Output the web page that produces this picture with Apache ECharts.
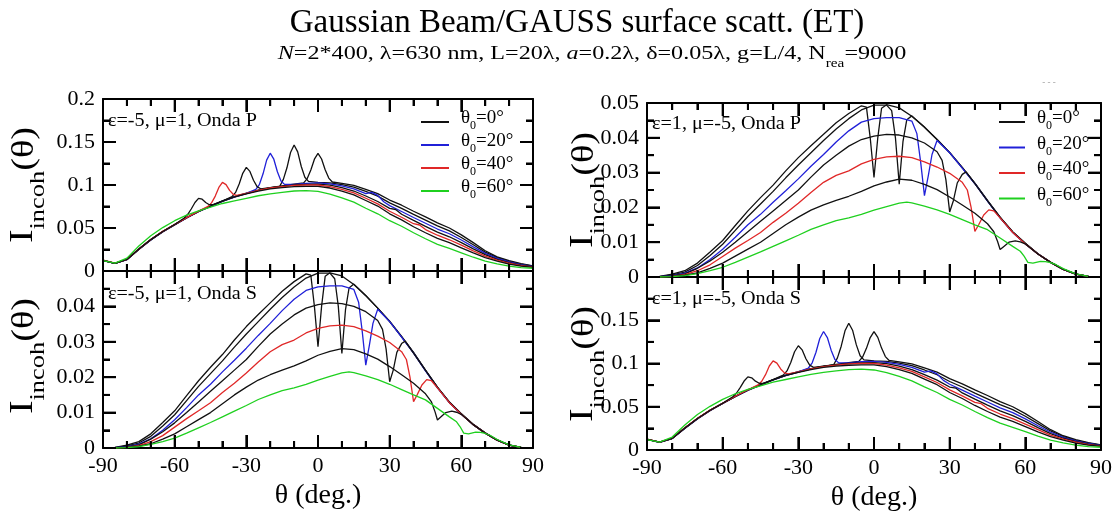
<!DOCTYPE html>
<html><head><meta charset="utf-8">
<script src="https://cdn.jsdelivr.net/npm/echarts@6/dist/echarts.min.js"></script>
<style>html,body{margin:0;padding:0;background:#fff}#c{width:1120px;height:525px}</style>
</head><body><div id="c"></div>
<script>
// ---------- data: [theta (deg), I_incoh] ----------
// "Onda P" panel for eps=-5 (same picture as "Onda S" for eps=1)
const P_K0  = [[-90,.0125],[-85,.009],[-80,.0135],[-75,.0255],[-70,.0365],[-65,.046],[-60,.054],[-55,.062],[-50,.0695],[-45,.0755],[-40,.0815],[-35,.0865],[-30,.0905],[-25,.094],[-20,.097],[-15,.099],[-10,.101],[-6,.1025],[-4.5,.1075],[-3,.1175],[-1.5,.130],[0,.1368],[1.5,.1302],[3,.1178],[4.5,.108],[6,.1035],[10,.102],[15,.0995],[20,.095],[25,.090],[30,.0825],[35,.0765],[40,.0695],[45,.063],[50,.056],[55,.050],[60,.042],[65,.033],[70,.0235],[75,.0165],[80,.012],[85,.0085],[90,.006]];
const P_K10 = [[-90,.0122],[-85,.0088],[-80,.0132],[-75,.025],[-70,.036],[-65,.0455],[-60,.0537],[-55,.0617],[-50,.069],[-45,.075],[-40,.081],[-35,.086],[-30,.090],[-25,.0937],[-20,.0967],[-16,.0985],[-14.5,.1065],[-13,.120],[-11.5,.1378],[-10,.1465],[-8.5,.1385],[-7,.1215],[-5.5,.109],[-4,.1042],[0,.103],[5,.1025],[10,.1005],[15,.0975],[20,.0925],[25,.087],[30,.0792],[35,.0728],[40,.0658],[45,.0592],[50,.0524],[55,.0467],[60,.039],[65,.0305],[70,.022],[75,.0156],[80,.0112],[85,.008],[90,.0057]];
const P_B20 = [[-90,.0123],[-85,.0089],[-80,.0133],[-75,.0252],[-70,.0362],[-65,.0457],[-60,.0538],[-55,.0618],[-50,.0692],[-45,.0752],[-40,.0812],[-35,.0862],[-30,.0902],[-26,.0948],[-24.5,.1008],[-23,.113],[-21.5,.1289],[-20,.137],[-18.5,.130],[-17,.1154],[-15.5,.1047],[-14,.1007],[-10,.1008],[-5,.102],[0,.1025],[5,.1012],[10,.099],[15,.0955],[20,.090],[22.5,.0915],[25,.088],[27.5,.0805],[30,.076],[35,.0692],[40,.0622],[45,.0555],[50,.0488],[55,.0433],[60,.036],[65,.028],[70,.0205],[75,.0146],[80,.0105],[85,.0075],[90,.0054]];
const P_K30 = [[-90,.0124],[-85,.009],[-80,.0134],[-75,.0254],[-70,.0364],[-65,.0459],[-60,.0539],[-55,.0619],[-50,.0694],[-45,.0754],[-40,.0814],[-36,.0865],[-34.5,.0914],[-33,.1011],[-31.5,.1136],[-30,.1205],[-28.5,.1158],[-27,.1055],[-25.5,.0981],[-24,.0956],[-20,.0968],[-15,.0985],[-10,.100],[-5,.1008],[0,.101],[5,.0998],[10,.097],[15,.093],[20,.0872],[25,.0808],[30,.0728],[32.5,.0715],[35,.066],[40,.0588],[45,.0518],[50,.0452],[55,.0398],[60,.033],[65,.0258],[70,.019],[75,.0136],[80,.0098],[85,.0069],[90,.005]];
const P_R40 = [[-90,.0126],[-85,.0091],[-80,.0136],[-75,.0256],[-70,.0366],[-65,.0461],[-60,.0541],[-55,.0621],[-50,.0696],[-46,.0752],[-44.5,.0795],[-43,.0871],[-41.5,.0971],[-40,.103],[-38.5,.1004],[-37,.0937],[-35.5,.0892],[-34,.088],[-30,.0903],[-25,.0938],[-20,.0965],[-15,.0982],[-10,.0995],[-5,.100],[0,.100],[5,.0982],[10,.095],[15,.0908],[20,.0846],[25,.078],[30,.0695],[35,.0625],[40,.055],[42.5,.0535],[45,.0482],[50,.0416],[55,.0363],[60,.030],[65,.0235],[70,.0172],[75,.0126],[80,.009],[85,.0063],[90,.0046]];
const P_K50 = [[-90,.0124],[-85,.009],[-80,.0135],[-75,.0255],[-70,.0365],[-65,.046],[-60,.054],[-56,.0616],[-54.5,.0659],[-53,.0724],[-51.5,.0797],[-50,.0845],[-48.5,.0835],[-47,.0796],[-45.5,.0771],[-44,.0771],[-40,.0812],[-35,.0862],[-30,.0898],[-25,.093],[-20,.0955],[-15,.097],[-10,.098],[-5,.0985],[0,.0985],[5,.0965],[10,.093],[15,.0885],[20,.082],[25,.0755],[30,.0665],[35,.0595],[40,.0515],[45,.0445],[50,.038],[55,.033],[60,.027],[65,.021],[70,.0155],[75,.0115],[80,.008],[85,.0056],[90,.0042]];
const P_G60 = [[-90,.012],[-85,.0092],[-80,.015],[-75,.029],[-70,.041],[-65,.0505],[-60,.0585],[-55,.065],[-50,.070],[-45,.0742],[-40,.0785],[-35,.0815],[-30,.0845],[-25,.0875],[-20,.0897],[-15,.0915],[-10,.093],[-5,.0935],[0,.0925],[5,.0895],[10,.085],[15,.080],[20,.073],[25,.0665],[30,.0585],[35,.052],[40,.0445],[45,.0375],[50,.031],[55,.0262],[60,.0212],[65,.016],[70,.0115],[75,.0082],[80,.0057],[85,.004],[90,.0032]];

// "Onda S" panel for eps=-5 (same picture as "Onda P" for eps=1)
const S_K0  = [[-90,0],[-85,.0002],[-80,.0008],[-75,.0018],[-70,.004],[-65,.0072],[-60,.0105],[-55,.0148],[-50,.019],[-45,.0228],[-40,.0264],[-35,.0305],[-30,.0343],[-25,.0377],[-20,.041],[-15,.0443],[-10,.047],[-5,.0492],[-3,.0488],[-1.5,.040],[0,.0286],[1.5,.040],[3,.0485],[5,.0495],[10,.0486],[15,.0462],[20,.043],[25,.0395],[30,.0358],[35,.0315],[40,.027],[45,.022],[50,.0172],[55,.013],[60,.0097],[65,.0067],[70,.0043],[75,.0023],[80,.0009],[85,.0002],[90,0]];
const S_K10 = [[-90,0],[-85,.0001],[-80,.0006],[-75,.0014],[-70,.0033],[-65,.0062],[-60,.0094],[-55,.0134],[-50,.0174],[-45,.021],[-40,.0246],[-35,.0285],[-30,.0322],[-25,.0357],[-20,.0392],[-15,.0425],[-10,.0455],[-5,.048],[0,.0494],[5,.0494],[7,.0478],[8.5,.040],[10,.0267],[11.5,.039],[13,.0452],[15,.0463],[20,.0431],[25,.0395],[30,.0357],[35,.0314],[40,.0269],[45,.0219],[50,.0171],[55,.0129],[60,.0096],[65,.0066],[70,.0042],[75,.0022],[80,.0008],[85,.0002],[90,0]];
const S_B20 = [[-90,0],[-85,.0001],[-80,.0004],[-75,.0011],[-70,.0026],[-65,.005],[-60,.008],[-55,.0114],[-50,.015],[-45,.018],[-40,.0215],[-35,.0248],[-30,.0282],[-25,.0318],[-20,.0352],[-15,.0388],[-10,.042],[-5,.0445],[0,.0455],[5,.0458],[10,.0458],[15,.0448],[17,.0412],[18.5,.033],[20,.0234],[21.5,.029],[23,.0352],[25,.0392],[30,.0357],[35,.0313],[40,.0268],[45,.0218],[50,.017],[55,.0128],[60,.0095],[65,.0066],[70,.0042],[75,.0022],[80,.0008],[85,.0002],[90,0]];
const S_K30 = [[-90,0],[-85,.0001],[-80,.0003],[-75,.0009],[-70,.0025],[-65,.0046],[-60,.0071],[-55,.010],[-50,.013],[-45,.016],[-40,.019],[-35,.022],[-30,.025],[-25,.0287],[-20,.0322],[-15,.035],[-10,.0376],[-5,.0395],[0,.0405],[5,.041],[10,.0408],[15,.040],[20,.0385],[25,.036],[27,.0335],[28.5,.028],[30,.0187],[31.5,.022],[33,.027],[35,.0295],[36.5,.0302],[40,.0268],[45,.0219],[50,.0171],[55,.0129],[60,.0096],[65,.0066],[70,.0042],[75,.0022],[80,.0008],[85,.0002],[90,0]];
const S_R40 = [[-90,0],[-85,0],[-80,.0002],[-75,.0007],[-70,.0018],[-65,.0035],[-60,.0059],[-55,.0083],[-50,.0105],[-45,.0128],[-40,.0157],[-35,.0183],[-30,.0212],[-25,.0243],[-20,.0272],[-15,.0292],[-10,.0305],[-5,.0325],[0,.0338],[5,.0345],[10,.0347],[15,.0343],[20,.0331],[25,.0316],[30,.0298],[35,.0272],[37,.025],[38.5,.020],[40,.0131],[41.5,.015],[43.5,.0178],[45.5,.0193],[47.5,.019],[50,.017],[55,.0128],[60,.0095],[65,.0066],[70,.0042],[75,.0022],[80,.0008],[85,.0002],[90,0]];
const S_K50 = [[-90,0],[-85,0],[-80,.0001],[-75,.0005],[-70,.0012],[-65,.0025],[-60,.004],[-55,.006],[-50,.008],[-45,.010],[-40,.0125],[-35,.015],[-30,.0172],[-25,.0192],[-20,.0207],[-15,.022],[-10,.0232],[-5,.0246],[0,.0262],[5,.0273],[10,.0281],[15,.0278],[20,.0266],[25,.0251],[30,.023],[35,.0207],[40,.0183],[45,.0153],[47.5,.013],[49,.0102],[50,.0079],[51.5,.0088],[53.5,.010],[56,.0104],[58,.0101],[60,.0095],[65,.0066],[70,.0042],[75,.0022],[80,.0008],[85,.0002],[90,0]];
const S_G60 = [[-90,0],[-85,0],[-80,.0001],[-75,.0004],[-70,.001],[-65,.0018],[-60,.0028],[-55,.0042],[-50,.0057],[-45,.0072],[-40,.0088],[-35,.0104],[-30,.012],[-25,.0137],[-20,.015],[-15,.0162],[-10,.017],[-5,.018],[0,.0192],[5,.0202],[10,.0212],[13,.0215],[15,.0213],[20,.0204],[25,.0193],[30,.018],[35,.0165],[40,.015],[45,.0136],[50,.0112],[55,.0088],[58,.0074],[59.5,.006],[61,.0042],[63,.004],[66,.0045],[68,.0044],[70,.0041],[72,.0036],[75,.0024],[80,.0009],[85,.0002],[90,0]];

const CURVE_NAMES = ['θ0=0°','θ0=10°','θ0=20°','θ0=30°','θ0=40°','θ0=50°','θ0=60°'];
const LEGEND_NAMES = ['θ0=0°','θ0=20°','θ0=40°','θ0=60°'];
const X_TICKS = [-90,-60,-30,0,30,60,90];
const X_MINOR_STEP = 10;
const PANEL_TEXT = ['ε=-5, μ=1, Onda P','ε=-5, μ=1, Onda S','ε=1, μ=-5, Onda P','ε=1, μ=-5, Onda S'];

// ---------- chart ----------
const P_SET = [P_K0,P_K10,P_B20,P_K30,P_R40,P_K50,P_G60];
const S_SET = [S_K0,S_K10,S_B20,S_K30,S_R40,S_K50,S_G60];
const COLORS = ['#111','#111','#2020d8','#111','#e02828','#111','#1fd01f'];
const FF = '"Liberation Serif","DejaVu Serif",serif';
const XMIN = X_TICKS[0], XMAX = X_TICKS[X_TICKS.length-1];

const panels = [
  {grid:{left:103,top:99,width:430,height:172}, set:P_SET, max:0.2, interval:0.05, bottom:false, showMax:true},
  {grid:{left:103,top:271,width:430,height:177}, set:S_SET, max:0.05, interval:0.01, bottom:true, showMax:false},
  {grid:{left:647,top:103,width:454,height:174}, set:S_SET, max:0.05, interval:0.01, bottom:false, showMax:true},
  {grid:{left:647,top:277,width:454,height:173}, set:P_SET, max:0.2, interval:0.05, bottom:true, showMax:false}
];
const MAJOR_LEN = 13, MINOR_LEN = 7, TICK_W = 2; // px

function mkLine(){ return {show:true, onZero:false, lineStyle:{color:'#000', width:2}}; }

const xAxis = [], yAxis = [], series = [], grid = [];
panels.forEach((p, gi) => {
  grid.push(Object.assign({containLabel:false}, p.grid));
  ['bottom','top'].forEach((pos, k) => {
    const lab = (k === 0 && p.bottom);
    xAxis.push({
      type:'value', gridIndex:gi, position:pos, min:XMIN, max:XMAX, interval:30,
      axisLine:mkLine(), axisTick:{show:true, inside:true, length:MAJOR_LEN, lineStyle:{color:'#000', width:TICK_W}},
      minorTick:{show:true, splitNumber:3, length:MINOR_LEN, lineStyle:{color:'#000', width:TICK_W}},
      splitLine:{show:false}, minorSplitLine:{show:false},
      axisLabel:{show:lab, fontFamily:FF, fontSize:22, color:'#000', margin:7},
      name: lab ? 'θ (deg.)' : '', nameLocation:'middle', nameGap:34,
      nameTextStyle:{fontFamily:FF, fontSize:28, color:'#000'}
    });
  });
  ['left','right'].forEach((pos, k) => {
    yAxis.push({
      type:'value', gridIndex:gi, position:pos, min:0, max:p.max, interval:p.interval,
      axisLine:mkLine(), axisTick:{show:true, inside:true, length:MAJOR_LEN, lineStyle:{color:'#000', width:TICK_W}},
      minorTick:{show:true, splitNumber:2, length:MINOR_LEN, lineStyle:{color:'#000', width:TICK_W}},
      splitLine:{show:false}, minorSplitLine:{show:false},
      axisLabel:{show:k===0, showMaxLabel:p.showMax, showMinLabel:true, fontFamily:FF, fontSize:22, color:'#000', margin:8}
    });
  });
  p.set.forEach((arr, ci) => {
    series.push({
      type:'line', name:CURVE_NAMES[ci], xAxisIndex:gi*2, yAxisIndex:gi*2, data:arr,
      showSymbol:false, symbol:'none', color:COLORS[ci],
      lineStyle:{color:COLORS[ci], width:1.3}, animation:false, silent:true, z:2+ci
    });
  });
  // inward tick marks on all four sides, as thin rect symbols anchored on the axes
  const marks = [];
  for (let v = XMIN; v <= XMAX; v += X_MINOR_STEP) {
    const L = X_TICKS.indexOf(v) >= 0 ? MAJOR_LEN : MINOR_LEN;
    marks.push({value:[v, 0], symbolSize:[TICK_W, L], symbolOffset:[0, -L/2]});
    marks.push({value:[v, p.max], symbolSize:[TICK_W, L], symbolOffset:[0, L/2]});
  }
  const half = p.interval / 2, n = Math.round(p.max / half);
  for (let k = 0; k <= n; k++) {
    const w = +(k * half).toFixed(5), L = k % 2 === 0 ? MAJOR_LEN : MINOR_LEN;
    marks.push({value:[XMIN, w], symbolSize:[L, TICK_W], symbolOffset:[L/2, 0]});
    marks.push({value:[XMAX, w], symbolSize:[L, TICK_W], symbolOffset:[-L/2, 0]});
  }
  series.push({
    type:'scatter', name:'ticks' + gi, xAxisIndex:gi*2, yAxisIndex:gi*2, data:marks,
    symbol:'rect', clip:false, itemStyle:{color:'#000', opacity:1}, animation:false, silent:true, z:30,
    emphasis:{disabled:true}
  });
});

function legendCfg(left, top, gap, w){
  return {
    data:LEGEND_NAMES, orient:'vertical', left, top, padding:0, itemWidth:w, itemHeight:2, itemGap:gap, icon:'rect',
    selectedMode:false,
    formatter: n => { const m = n.match(/θ0=(.*)/); return '{f|θ}{b|0}{a|=' + m[1] + '}'; },
    textStyle:{fontFamily:FF, fontSize:19, color:'#000',
      rich:{f:{fontFamily:FF, fontSize:19, lineHeight:20, color:'#000', padding:[0,0,4,7], verticalAlign:'bottom'},
            a:{fontFamily:FF, fontSize:19, lineHeight:20, color:'#000', padding:[0,0,4,0], verticalAlign:'bottom'},
            b:{fontFamily:FF, fontSize:12, lineHeight:12, color:'#000', verticalAlign:'bottom'}}}
  };
}

function ylab(x, y){
  return {type:'text', x, y, rotation:Math.PI/2, scaleX:1.2, scaleY:1, silent:true,
    style:{text:'{i|I}{s|incoh}{p|(θ)}', align:'center', verticalAlign:'middle', fill:'#000',
      rich:{i:{fontFamily:FF, fontSize:34, fill:'#000', padding:[0,0,9,0], verticalAlign:'bottom'},
            s:{fontFamily:FF, fontSize:22, fill:'#000', verticalAlign:'bottom'},
            p:{fontFamily:FF, fontSize:32, fill:'#000', padding:[0,0,9,0], verticalAlign:'bottom'}}}};
}
function ptxt(x, y, t){
  return {type:'text', x, y, scaleX:1.12, scaleY:1, silent:true, style:{text:t, fontFamily:FF, fontSize:18, fill:'#000', align:'left', verticalAlign:'middle'}};
}

const graphic = [
  {type:'text', x:577, y:23, silent:true, style:{text:'Gaussian Beam/GAUSS surface scatt. (ET)', fontFamily:FF, fontSize:33, fill:'#000', align:'center', verticalAlign:'middle'}},
  {type:'text', x:592, y:57, scaleX:1.27, scaleY:1, silent:true, style:{
    text:'{it|N}{r|=2*400, λ=630 nm, L=20λ, }{it|a}{r|=0.2λ, δ=0.05λ, g=L/4, N}{sub|rea}{r|=9000}',
    align:'center', verticalAlign:'middle', fill:'#000',
    rich:{r:{fontFamily:FF, fontSize:19, fill:'#000', padding:[0,0,6,0], verticalAlign:'bottom'},
          it:{fontFamily:FF, fontSize:19, fontStyle:'italic', fill:'#000', padding:[0,0,6,0], verticalAlign:'bottom'},
          sub:{fontFamily:FF, fontSize:12, fill:'#000', verticalAlign:'bottom'}}}},
  {type:'text', x:1049, y:83, silent:true, style:{text:'- - -', fontFamily:FF, fontSize:9, fill:'#999', align:'center', verticalAlign:'middle'}},
  ylab(28, 185), ylab(28, 356), ylab(588, 190), ylab(588, 364),
  ptxt(108, 121, PANEL_TEXT[0]), ptxt(108, 294, PANEL_TEXT[1]),
  ptxt(652, 124, PANEL_TEXT[2]), ptxt(652, 299, PANEL_TEXT[3])
];

const chart = echarts.init(document.getElementById('c'), null, {renderer:'canvas'});
chart.setOption({
  animation:false, backgroundColor:'#fff',
  grid, xAxis, yAxis, series, graphic,
  legend:[legendCfg(421, 109, 0, 28), legendCfg(999, 109, 2.5, 26)],
  tooltip:{show:false}
});
</script></body></html>
